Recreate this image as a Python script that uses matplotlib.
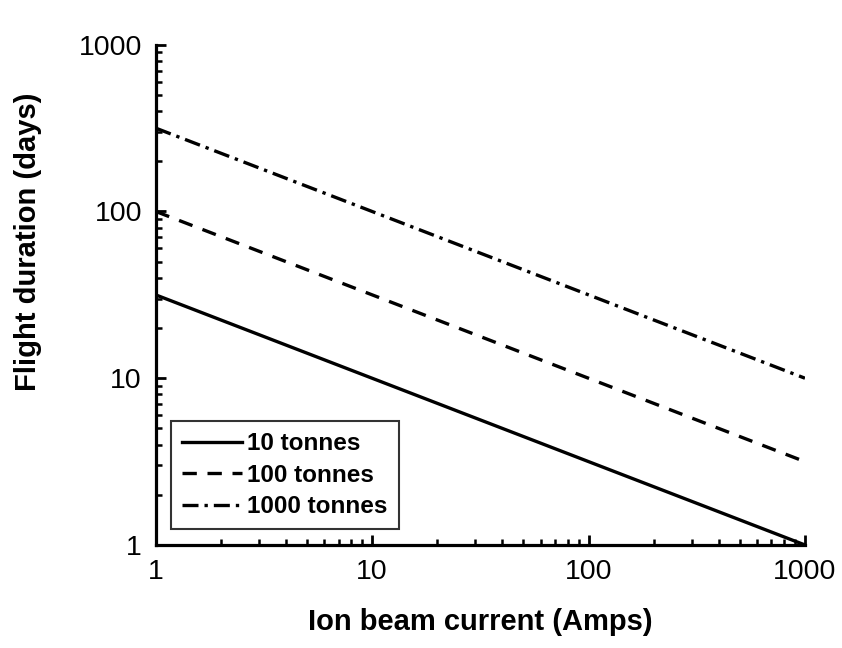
import matplotlib
matplotlib.use("Agg")
import matplotlib.pyplot as plt
from matplotlib.ticker import LogLocator, NullFormatter, FixedLocator

plt.rcParams['font.family'] = ['Liberation Sans', 'DejaVu Sans']

current = [1, 1000]
dur_10 = [31.6, 1.0]
dur_100 = [100, 3.16]
dur_1000 = [316, 10.0]
labels = ["10 tonnes", "100 tonnes", "1000 tonnes"]
ticks = [1, 10, 100, 1000]
tick_labels = ["1", "10", "100", "1000"]

fig = plt.figure(figsize=(8.42, 6.48), dpi=100)
ax = fig.add_axes([0.185, 0.159, 0.771, 0.772])

ax.plot(current, dur_10, color='black', lw=2.4, ls='-', label=labels[0])
ax.plot(current, dur_100, color='black', lw=2.4, ls=(0, (4.3, 3.2)), label=labels[1])
ax.plot(current, dur_1000, color='black', lw=2.4, ls=(0, (4.8, 1.8, 1.0, 1.8)), label=labels[2])

ax.set_xscale('log')
ax.set_yscale('log')
ax.set_xlim(1, 1000)
ax.set_ylim(1, 1000)

for s in ['top', 'right']:
    ax.spines[s].set_visible(False)
for s in ['left', 'bottom']:
    ax.spines[s].set_linewidth(2.3)

ax.xaxis.set_major_locator(FixedLocator(ticks))
ax.yaxis.set_major_locator(FixedLocator(ticks))
ax.set_xticklabels(tick_labels)
ax.set_yticklabels(tick_labels)
ax.xaxis.set_minor_locator(LogLocator(base=10, subs=range(2, 10)))
ax.yaxis.set_minor_locator(LogLocator(base=10, subs=range(2, 10)))
ax.xaxis.set_minor_formatter(NullFormatter())
ax.yaxis.set_minor_formatter(NullFormatter())
ax.tick_params(which='major', direction='in', length=7.5, width=2, labelsize=20.5, pad=10)
ax.tick_params(which='minor', direction='in', length=4.5, width=1.8)

ax.set_xlabel("Ion beam current (Amps)", fontsize=21, fontweight='bold', va='center')
ax.set_ylabel("Flight duration (days)", fontsize=21, fontweight='bold', va='center')
ax.xaxis.set_label_coords(0.5, -0.154)
ax.yaxis.set_label_coords(-0.197, 0.606)

leg = ax.legend(loc='lower left', bbox_to_anchor=(0.023, 0.032), prop={'size': 17.5, 'weight': 'bold'},
                frameon=True, fancybox=False, edgecolor='black', handlelength=2.5,
                handletextpad=0.2, labelspacing=0.35, borderpad=0.45, borderaxespad=0)
leg.get_frame().set_linewidth(1.5)

fig.savefig("out.png", dpi=100)
